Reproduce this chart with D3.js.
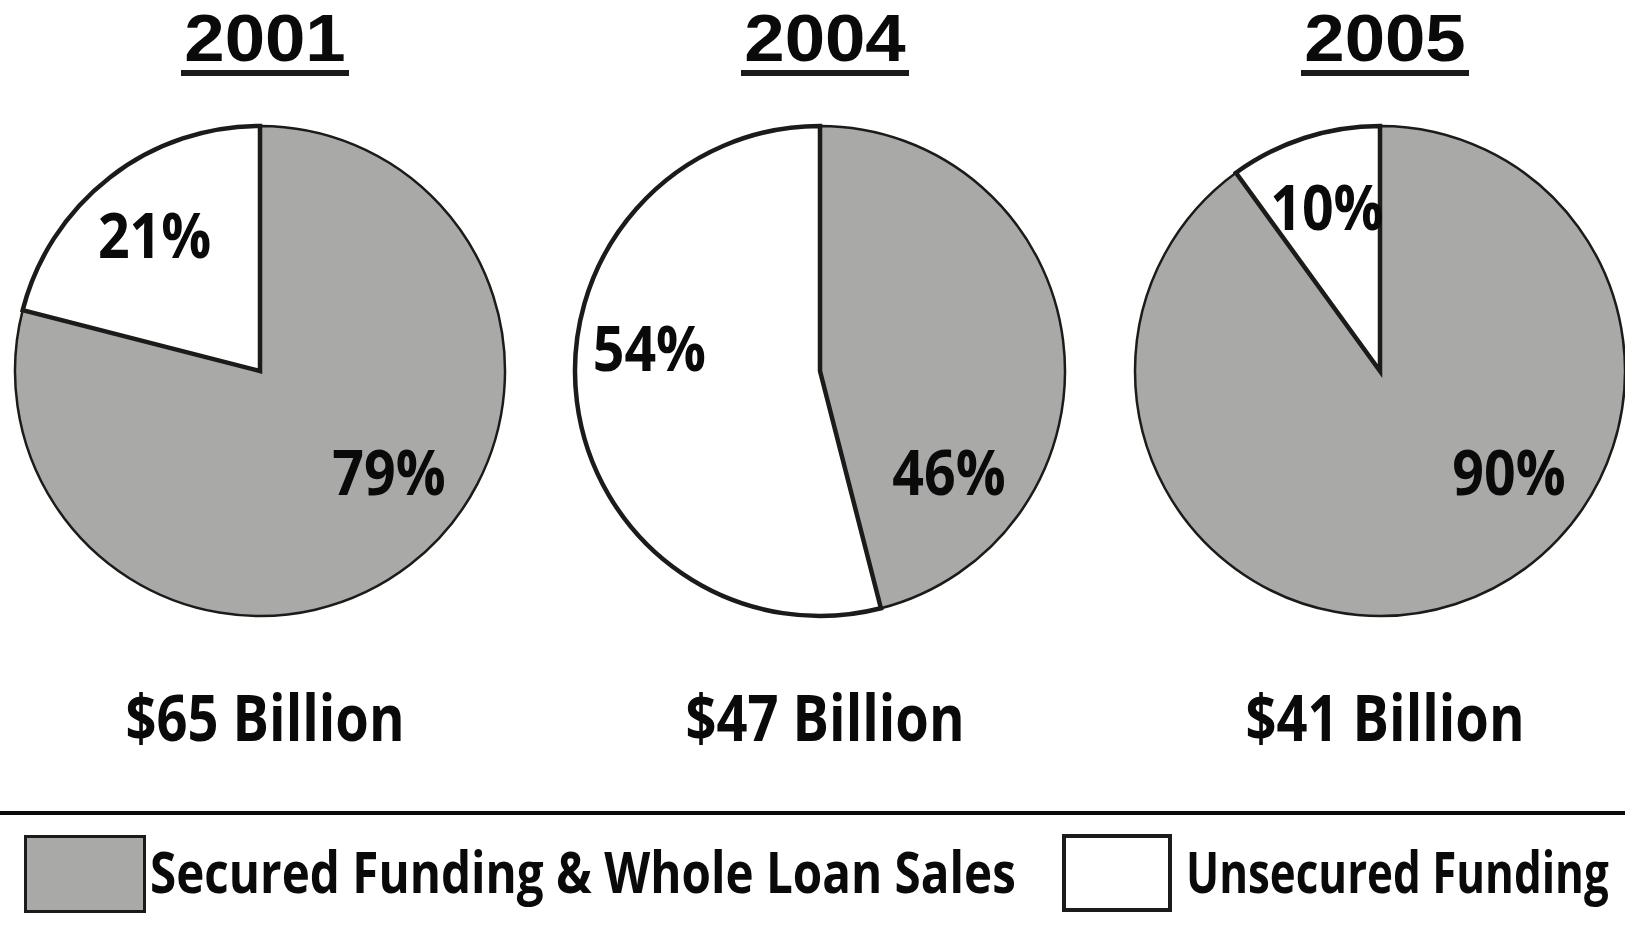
<!DOCTYPE html>
<html>
<head>
<meta charset="utf-8">
<script src="https://cdn.jsdelivr.net/npm/d3@7"></script>
<style>
  html, body { margin: 0; padding: 0; background: #ffffff; }
  svg { display: block; }
  text { font-family: "Open Sans", "Noto Sans", sans-serif; font-weight: 700; fill: #0a0a0a; }
  text.heading { font-family: "Liberation Sans", Arial, sans-serif; }
</style>
</head>
<body>
<svg id="chart" width="1625" height="934"></svg>
<script>
// Funding mix by year (percent of total funding)
const years = ["2001", "2004", "2005"];
const totals = ["$65 Billion", "$47 Billion", "$41 Billion"];
const securedPct = [79, 46, 90];
const unsecuredPct = [21, 54, 10];
const seriesNames = ["Secured Funding & Whole Loan Sales", "Unsecured Funding"];
const seriesColors = ["#a9a9a7", "#ffffff"];

const W = 1625, H = 934;
const ink = "#1c1b19";
const svg = d3.select("#chart").attr("width", W).attr("height", H);

// Column positions: labels and pies share the same three columns
const labelX = d3.scalePoint().domain(years).range([265, 1385]);
const pieX = d3.scalePoint().domain(years).range([260, 1380]);
const cy = 371, R = 245;

const pie = d3.pie().sort(null).value(d => d.value);
const arc = d3.arc().innerRadius(0).outerRadius(R);
const labelArc = d3.arc().innerRadius(172).outerRadius(172);

// condensed bold text: draw at origin inside a translated, horizontally squeezed group
function label(parent, x, y, str, size, sx, anchor, cls) {
  const g = parent.append("g").attr("transform", `translate(${x},${y}) scale(${sx},1)`);
  g.append("text")
    .attr("class", cls || null)
    .attr("text-anchor", anchor || "middle")
    .attr("font-size", size)
    .text(str);
  return g;
}

years.forEach((yr, i) => {
  const col = svg.append("g").attr("class", "col");
  const lx = labelX(yr), px = pieX(yr);

  // Year heading with underline bar
  label(col, lx, 61, yr, 66, 1.1, "middle", "heading");
  col.append("rect")
    .attr("x", lx - 84).attr("y", 70)
    .attr("width", 168).attr("height", 6)
    .attr("fill", ink);

  // Pie: secured slice runs clockwise from 12 o'clock, unsecured fills the rest
  const slices = pie([
    { key: 0, value: securedPct[i] },
    { key: 1, value: unsecuredPct[i] }
  ]);
  const pg = col.append("g").attr("transform", `translate(${px},${cy})`);
  pg.selectAll("path.slice")
    .data(slices)
    .join("path")
    .attr("class", "slice")
    .attr("d", arc)
    .attr("fill", d => seriesColors[d.data.key])
    .attr("stroke", ink)
    .attr("stroke-width", d => d.data.key === 1 ? 4.5 : 2.5)
    .attr("stroke-linejoin", "miter");

  // Percent labels: secured sits lower right, unsecured inside its slice, kept above the centre line
  const unsec = slices[1];
  label(pg, 129, 101 + 22.5, securedPct[i] + "%", 63, 0.88);
  const c = labelArc.centroid(unsec);
  label(pg, c[0], Math.min(c[1], -23) + 22.5, unsecuredPct[i] + "%", 63, 0.88);

  // Total funding under each pie
  label(col, lx, 741, totals[i], 65, 0.835);
});

// Rule above the legend
svg.append("line")
  .attr("x1", 0).attr("x2", W)
  .attr("y1", 813).attr("y2", 813)
  .attr("stroke", "#0a0a0a").attr("stroke-width", 4);

// Legend
const legend = svg.append("g").attr("class", "legend");
legend.append("rect")
  .attr("x", 25.5).attr("y", 836.5).attr("width", 119).attr("height", 75)
  .attr("fill", seriesColors[0]).attr("stroke", ink).attr("stroke-width", 3);
label(legend, 150, 893, seriesNames[0], 57, 0.835, "start");

legend.append("rect")
  .attr("x", 1064).attr("y", 836).attr("width", 106).attr("height", 74)
  .attr("fill", seriesColors[1]).attr("stroke", ink).attr("stroke-width", 4);
label(legend, 1186, 893, seriesNames[1], 57, 0.77, "start");
</script>
</body>
</html>
